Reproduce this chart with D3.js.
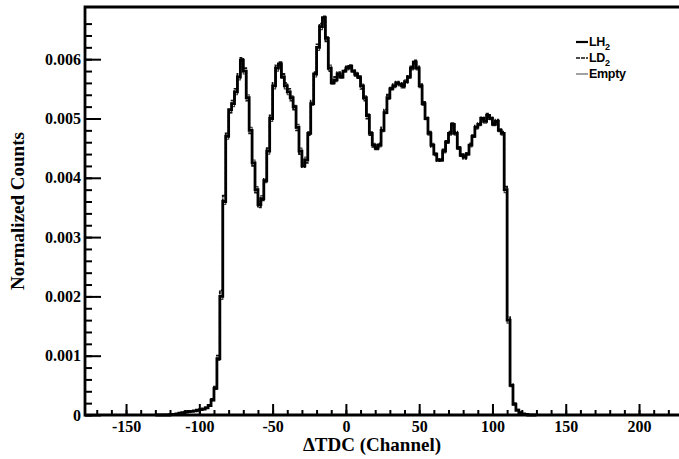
<!DOCTYPE html>
<html>
<head>
<meta charset="utf-8">
<script src="https://cdn.jsdelivr.net/npm/d3@7"></script>
<style>
  body { margin: 0; background: #fff; }
  svg { display: block; }
  .tick text { font-family: "Liberation Serif", "DejaVu Serif", serif; font-weight: bold; font-size: 16px; fill: #000; }
  .title { font-family: "Liberation Serif", serif; font-weight: bold; font-size: 19px; fill: #000; }
  .legend text { font-family: "Liberation Sans", Arial, sans-serif; font-weight: bold; font-size: 12.5px; fill: #000; letter-spacing: -0.3px; }
</style>
</head>
<body>
<svg width="679" height="459"></svg>
<script>
// histogram binning: 2 channel wide bins starting at -130
var binStart = -130;
var binWidth = 2;

// normalized counts (x 1e-3) per bin
var lh2 = [0.00, 0.00, 0.00, 0.00, 0.00, 0.01, 0.01, 0.02, 0.03, 0.04,
  0.05, 0.06, 0.06, 0.07, 0.08, 0.09, 0.10, 0.12, 0.16, 0.25,
  0.45, 0.95, 2.00, 3.60, 4.70, 5.15, 5.25, 5.45, 5.70, 5.98,
  5.80, 5.35, 4.80, 4.25, 3.80, 3.55, 3.65, 3.95, 4.45, 5.00,
  5.55, 5.85, 5.92, 5.70, 5.55, 5.45, 5.35, 5.20, 4.85, 4.45,
  4.20, 4.30, 4.75, 5.25, 5.75, 6.20, 6.55, 6.70, 6.35, 5.85,
  5.60, 5.65, 5.75, 5.70, 5.80, 5.85, 5.88, 5.80, 5.75, 5.70,
  5.55, 5.35, 5.05, 4.75, 4.55, 4.50, 4.55, 4.80, 5.10, 5.35,
  5.50, 5.55, 5.60, 5.58, 5.55, 5.62, 5.70, 5.85, 5.95, 5.85,
  5.55, 5.25, 5.00, 4.75, 4.55, 4.40, 4.30, 4.30, 4.45, 4.60,
  4.75, 4.90, 4.75, 4.50, 4.38, 4.35, 4.40, 4.55, 4.70, 4.85,
  4.90, 5.00, 4.95, 5.05, 5.00, 4.90, 4.95, 4.80, 4.75, 3.80,
  1.60, 0.50, 0.18, 0.08, 0.04, 0.02, 0.01, 0.00, 0.00, 0.00];

var ld2 = [0.00, 0.00, 0.00, 0.00, 0.00, 0.00, 0.01, 0.02, 0.02, 0.04,
  0.05, 0.05, 0.07, 0.07, 0.08, 0.10, 0.11, 0.13, 0.17, 0.27,
  0.48, 1.00, 2.10, 3.70, 4.75, 5.10, 5.30, 5.50, 5.75, 6.02,
  5.85, 5.30, 4.75, 4.20, 3.75, 3.50, 3.62, 3.98, 4.50, 5.05,
  5.60, 5.90, 5.95, 5.75, 5.60, 5.50, 5.30, 5.15, 4.80, 4.40,
  4.18, 4.25, 4.72, 5.30, 5.78, 6.25, 6.60, 6.72, 6.30, 5.80,
  5.62, 5.70, 5.78, 5.72, 5.82, 5.88, 5.90, 5.82, 5.72, 5.68,
  5.50, 5.30, 5.00, 4.72, 4.52, 4.48, 4.58, 4.85, 5.15, 5.40,
  5.52, 5.58, 5.62, 5.60, 5.52, 5.60, 5.72, 5.88, 5.98, 5.88,
  5.58, 5.28, 5.02, 4.78, 4.52, 4.38, 4.28, 4.32, 4.48, 4.62,
  4.78, 4.92, 4.78, 4.52, 4.40, 4.32, 4.42, 4.58, 4.72, 4.88,
  4.92, 5.02, 4.98, 5.08, 5.02, 4.92, 4.98, 4.82, 4.78, 3.85,
  1.65, 0.52, 0.20, 0.09, 0.04, 0.02, 0.01, 0.00, 0.00, 0.00];

var empty = [0.00, 0.00, 0.00, 0.01, 0.00, 0.01, 0.02, 0.02, 0.03, 0.03,
  0.05, 0.06, 0.07, 0.06, 0.09, 0.09, 0.11, 0.12, 0.15, 0.24,
  0.43, 0.92, 1.95, 3.55, 4.65, 5.10, 5.20, 5.40, 5.65, 5.92,
  5.75, 5.40, 4.85, 4.30, 3.85, 3.60, 3.70, 3.92, 4.40, 4.95,
  5.50, 5.80, 5.88, 5.68, 5.50, 5.40, 5.38, 5.22, 4.90, 4.50,
  4.25, 4.35, 4.78, 5.22, 5.70, 6.15, 6.50, 6.65, 6.38, 5.90,
  5.58, 5.62, 5.72, 5.68, 5.78, 5.82, 5.85, 5.78, 5.78, 5.72,
  5.58, 5.38, 5.08, 4.78, 4.58, 4.52, 4.52, 4.78, 5.08, 5.32,
  5.48, 5.52, 5.58, 5.55, 5.58, 5.65, 5.68, 5.82, 5.92, 5.82,
  5.52, 5.22, 4.98, 4.72, 4.58, 4.42, 4.32, 4.28, 4.42, 4.58,
  4.72, 4.88, 4.72, 4.48, 4.36, 4.38, 4.38, 4.52, 4.68, 4.82,
  4.88, 4.98, 4.92, 5.02, 4.98, 4.88, 4.92, 4.78, 4.72, 3.75,
  1.55, 0.48, 0.17, 0.08, 0.05, 0.02, 0.01, 0.00, 0.00, 0.00];

var series = [
  {name: "LH", sub: "2", values: lh2, color: "#000", width: 2.8, dash: null},
  {name: "LD", sub: "2", values: ld2, color: "#111", width: 1.8, dash: "4,1"},
  {name: "Empty", sub: "", values: empty, color: "#444", width: 1.2, dash: null}
];

var xMajor = [-150, -100, -50, 0, 50, 100, 150, 200];
var yMajor = [0, 0.001, 0.002, 0.003, 0.004, 0.005, 0.006];

var svg = d3.select("svg");

var x = d3.scaleLinear().domain([-178, 230]).range([85, 683]);
var y = d3.scaleLinear().domain([0, 0.00688]).range([415, 7]);

// frame
svg.append("path")
  .attr("d", "M" + x(230) + "," + y(0.00688) + "H" + x(-178) + "V" + y(0) + "H" + x(230))
  .attr("fill", "none")
  .attr("stroke", "#000")
  .attr("stroke-width", 2.8);

// x axis, ticks pointing inward
var xMinor = svg.append("g")
  .attr("transform", "translate(0," + y(0) + ")")
  .call(d3.axisBottom(x).tickValues(d3.range(-170, 231, 10)).tickSize(-5).tickFormat(""));
var xAxis = svg.append("g")
  .attr("transform", "translate(0," + y(0) + ")")
  .call(d3.axisBottom(x).tickValues(xMajor).tickSize(-11).tickPadding(6)
    .tickFormat(function(d) { return String(d); }));

// y axis
var yMinor = svg.append("g")
  .attr("transform", "translate(" + x(-178) + ",0)")
  .call(d3.axisLeft(y).tickValues(d3.range(0, 0.0068, 0.0002)).tickSize(-7).tickFormat(""));
var yAxis = svg.append("g")
  .attr("transform", "translate(" + x(-178) + ",0)")
  .call(d3.axisLeft(y).tickValues(yMajor).tickSize(-16).tickPadding(4)
    .tickFormat(function(d) { return d === 0 ? "0" : d3.format(".3f")(d); }));

svg.selectAll(".domain").remove();
svg.selectAll(".tick line").attr("stroke", "#000").attr("stroke-width", 2);

// histogram lines (step shape over bin edges)
var line = d3.line()
  .x(function(d) { return x(d[0]); })
  .y(function(d) { return y(d[1]); })
  .curve(d3.curveStepAfter);

series.slice().reverse().forEach(function(s) {
  var pts = s.values.map(function(v, i) { return [binStart + i * binWidth, v * 1e-3]; });
  pts.push([binStart + s.values.length * binWidth, s.values[s.values.length - 1] * 1e-3]);
  svg.append("path")
    .datum(pts)
    .attr("d", line)
    .attr("fill", "none")
    .attr("stroke", s.color)
    .attr("stroke-width", s.width)
    .attr("stroke-dasharray", s.dash);
});

// axis titles
svg.append("text")
  .attr("class", "title")
  .attr("x", 372)
  .attr("y", 451)
  .attr("text-anchor", "middle")
  .text("\u0394TDC (Channel)");

svg.append("text")
  .attr("class", "title")
  .attr("transform", "translate(24," + 211 + ") rotate(-90)")
  .attr("text-anchor", "middle")
  .text("Normalized Counts");

// legend
var legend = svg.append("g").attr("class", "legend");
series.forEach(function(s, i) {
  var ly = 42 + i * 16;
  legend.append("line")
    .attr("x1", 576).attr("x2", 588)
    .attr("y1", ly).attr("y2", ly)
    .attr("stroke", s.color)
    .attr("stroke-width", i === 0 ? 2.2 : (i === 1 ? 1.6 : 1))
    .attr("stroke-dasharray", s.dash);
  var t = legend.append("text")
    .attr("x", 589).attr("y", ly + 4);
  t.append("tspan").text(s.name);
  if (s.sub) {
    t.append("tspan").attr("dy", 4).style("font-size", "9px").text(s.sub);
  }
});
</script>
</body>
</html>
